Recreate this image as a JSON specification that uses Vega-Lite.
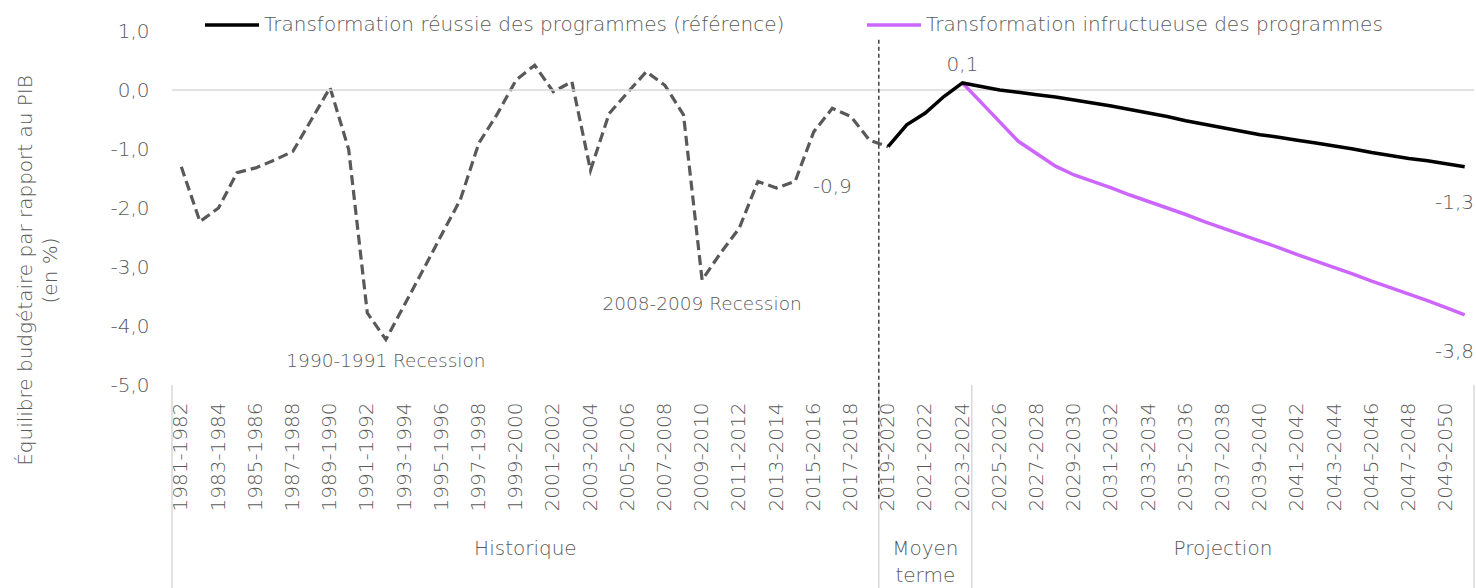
{
  "$schema": "https://vega.github.io/schema/vega-lite/v6.json",
  "autosize": {"type": "none"},
  "padding": {"left": 172, "top": 31, "right": 2, "bottom": 203},
  "width": 1302,
  "height": 354,
  "background": "white",
  "config": {
    "font": "DejaVu Sans",
    "view": {"stroke": null},
    "text": {"font": "DejaVu Sans", "fontWeight": 300, "fill": "#595959", "fontSize": 20}
  },
  "datasets": {
    "hist": [
      {"period": "1981-1982", "value": -1.30},
      {"period": "1982-1983", "value": -2.23},
      {"period": "1983-1984", "value": -2.00},
      {"period": "1984-1985", "value": -1.40},
      {"period": "1985-1986", "value": -1.32},
      {"period": "1986-1987", "value": -1.19},
      {"period": "1987-1988", "value": -1.04},
      {"period": "1988-1989", "value": -0.50},
      {"period": "1989-1990", "value": 0.04},
      {"period": "1990-1991", "value": -1.01},
      {"period": "1991-1992", "value": -3.78},
      {"period": "1992-1993", "value": -4.23},
      {"period": "1993-1994", "value": -3.64},
      {"period": "1994-1995", "value": -3.05},
      {"period": "1995-1996", "value": -2.45},
      {"period": "1996-1997", "value": -1.86},
      {"period": "1997-1998", "value": -0.90},
      {"period": "1998-1999", "value": -0.40},
      {"period": "1999-2000", "value": 0.17},
      {"period": "2000-2001", "value": 0.42},
      {"period": "2001-2002", "value": -0.03},
      {"period": "2002-2003", "value": 0.14},
      {"period": "2003-2004", "value": -1.36},
      {"period": "2004-2005", "value": -0.40},
      {"period": "2005-2006", "value": -0.04},
      {"period": "2006-2007", "value": 0.31},
      {"period": "2007-2008", "value": 0.08},
      {"period": "2008-2009", "value": -0.42},
      {"period": "2009-2010", "value": -3.22},
      {"period": "2010-2011", "value": -2.76},
      {"period": "2011-2012", "value": -2.34},
      {"period": "2012-2013", "value": -1.55},
      {"period": "2013-2014", "value": -1.66},
      {"period": "2014-2015", "value": -1.55},
      {"period": "2015-2016", "value": -0.71},
      {"period": "2016-2017", "value": -0.31},
      {"period": "2017-2018", "value": -0.45},
      {"period": "2018-2019", "value": -0.85},
      {"period": "2019-2020", "value": -0.96}
    ],
    "scen": [
      {"period": "2023-2024", "series": "Transformation infructueuse des programmes", "value": 0.12},
      {"period": "2024-2025", "series": "Transformation infructueuse des programmes", "value": -0.21},
      {"period": "2025-2026", "series": "Transformation infructueuse des programmes", "value": -0.54},
      {"period": "2026-2027", "series": "Transformation infructueuse des programmes", "value": -0.87},
      {"period": "2027-2028", "series": "Transformation infructueuse des programmes", "value": -1.08},
      {"period": "2028-2029", "series": "Transformation infructueuse des programmes", "value": -1.29},
      {"period": "2029-2030", "series": "Transformation infructueuse des programmes", "value": -1.44},
      {"period": "2030-2031", "series": "Transformation infructueuse des programmes", "value": -1.55},
      {"period": "2031-2032", "series": "Transformation infructueuse des programmes", "value": -1.66},
      {"period": "2032-2033", "series": "Transformation infructueuse des programmes", "value": -1.78},
      {"period": "2033-2034", "series": "Transformation infructueuse des programmes", "value": -1.89},
      {"period": "2034-2035", "series": "Transformation infructueuse des programmes", "value": -2.00},
      {"period": "2035-2036", "series": "Transformation infructueuse des programmes", "value": -2.11},
      {"period": "2036-2037", "series": "Transformation infructueuse des programmes", "value": -2.23},
      {"period": "2037-2038", "series": "Transformation infructueuse des programmes", "value": -2.34},
      {"period": "2038-2039", "series": "Transformation infructueuse des programmes", "value": -2.45},
      {"period": "2039-2040", "series": "Transformation infructueuse des programmes", "value": -2.56},
      {"period": "2040-2041", "series": "Transformation infructueuse des programmes", "value": -2.67},
      {"period": "2041-2042", "series": "Transformation infructueuse des programmes", "value": -2.79},
      {"period": "2042-2043", "series": "Transformation infructueuse des programmes", "value": -2.90},
      {"period": "2043-2044", "series": "Transformation infructueuse des programmes", "value": -3.01},
      {"period": "2044-2045", "series": "Transformation infructueuse des programmes", "value": -3.12},
      {"period": "2045-2046", "series": "Transformation infructueuse des programmes", "value": -3.24},
      {"period": "2046-2047", "series": "Transformation infructueuse des programmes", "value": -3.35},
      {"period": "2047-2048", "series": "Transformation infructueuse des programmes", "value": -3.46},
      {"period": "2048-2049", "series": "Transformation infructueuse des programmes", "value": -3.57},
      {"period": "2049-2050", "series": "Transformation infructueuse des programmes", "value": -3.69},
      {"period": "2050-2051", "series": "Transformation infructueuse des programmes", "value": -3.81},
      {"period": "2019-2020", "series": "Transformation réussie des programmes (référence)", "value": -0.96},
      {"period": "2020-2021", "series": "Transformation réussie des programmes (référence)", "value": -0.59},
      {"period": "2021-2022", "series": "Transformation réussie des programmes (référence)", "value": -0.39},
      {"period": "2022-2023", "series": "Transformation réussie des programmes (référence)", "value": -0.11},
      {"period": "2023-2024", "series": "Transformation réussie des programmes (référence)", "value": 0.12},
      {"period": "2024-2025", "series": "Transformation réussie des programmes (référence)", "value": 0.06},
      {"period": "2025-2026", "series": "Transformation réussie des programmes (référence)", "value": 0.00},
      {"period": "2026-2027", "series": "Transformation réussie des programmes (référence)", "value": -0.04},
      {"period": "2027-2028", "series": "Transformation réussie des programmes (référence)", "value": -0.08},
      {"period": "2028-2029", "series": "Transformation réussie des programmes (référence)", "value": -0.12},
      {"period": "2029-2030", "series": "Transformation réussie des programmes (référence)", "value": -0.17},
      {"period": "2030-2031", "series": "Transformation réussie des programmes (référence)", "value": -0.22},
      {"period": "2031-2032", "series": "Transformation réussie des programmes (référence)", "value": -0.27},
      {"period": "2032-2033", "series": "Transformation réussie des programmes (référence)", "value": -0.33},
      {"period": "2033-2034", "series": "Transformation réussie des programmes (référence)", "value": -0.39},
      {"period": "2034-2035", "series": "Transformation réussie des programmes (référence)", "value": -0.45},
      {"period": "2035-2036", "series": "Transformation réussie des programmes (référence)", "value": -0.52},
      {"period": "2036-2037", "series": "Transformation réussie des programmes (référence)", "value": -0.58},
      {"period": "2037-2038", "series": "Transformation réussie des programmes (référence)", "value": -0.64},
      {"period": "2038-2039", "series": "Transformation réussie des programmes (référence)", "value": -0.70},
      {"period": "2039-2040", "series": "Transformation réussie des programmes (référence)", "value": -0.76},
      {"period": "2040-2041", "series": "Transformation réussie des programmes (référence)", "value": -0.80},
      {"period": "2041-2042", "series": "Transformation réussie des programmes (référence)", "value": -0.85},
      {"period": "2042-2043", "series": "Transformation réussie des programmes (référence)", "value": -0.90},
      {"period": "2043-2044", "series": "Transformation réussie des programmes (référence)", "value": -0.95},
      {"period": "2044-2045", "series": "Transformation réussie des programmes (référence)", "value": -1.00},
      {"period": "2045-2046", "series": "Transformation réussie des programmes (référence)", "value": -1.06},
      {"period": "2046-2047", "series": "Transformation réussie des programmes (référence)", "value": -1.11},
      {"period": "2047-2048", "series": "Transformation réussie des programmes (référence)", "value": -1.16},
      {"period": "2048-2049", "series": "Transformation réussie des programmes (référence)", "value": -1.20},
      {"period": "2049-2050", "series": "Transformation réussie des programmes (référence)", "value": -1.25},
      {"period": "2050-2051", "series": "Transformation réussie des programmes (référence)", "value": -1.30}
    ],
    "seps": [
      {"period": "1981-1982"},
      {"period": "2019-2020"},
      {"period": "2024-2025"}
    ],
    "sepEnd": [
      {"period": "2050-2051"}
    ],
    "groupLeft": [
      {"period": "2000-2001", "label": "Historique"}
    ],
    "groupCenter": [
      {"period": "2021-2022", "label": ["Moyen", "terme"]},
      {"period": "2037-2038", "label": "Projection"}
    ],
    "notes": [
      {"period": "2023-2024", "value": 0.42, "label": "0,1", "size": 20},
      {"period": "2016-2017", "value": -1.64, "label": "-0,9", "size": 20},
      {"period": "2009-2010", "value": -3.62, "label": "2008-2009 Recession", "size": 18.5},
      {"period": "1992-1993", "value": -4.59, "label": "1990-1991 Recession", "size": 18.5}
    ],
    "endNotes": [
      {"period": "2050-2051", "value": -1.92, "label": "-1,3"},
      {"period": "2050-2051", "value": -4.44, "label": "-3,8"}
    ]
  },
  "layer": [
    {
      "data": {"name": "hist"},
      "mark": {"type": "line", "color": "#595959", "strokeWidth": 3.2, "strokeDash": [10, 5]},
      "encoding": {
        "x": {
          "field": "period",
          "type": "ordinal",
          "scale": {"type": "band", "paddingInner": 0, "paddingOuter": 0},
          "axis": {
            "title": null,
            "domain": false,
            "ticks": false,
            "grid": false,
            "labelAngle": -90,
            "labelPadding": 17,
            "labelOverlap": false,
            "labelFontSize": 20,
            "labelFont": "DejaVu Sans",
            "labelFontWeight": 300,
            "labelColor": "#595959",
            "labelExpr": "toNumber(substring(datum.label,0,4)) % 2 == 1 ? datum.label : ''"
          }
        },
        "y": {
          "field": "value",
          "type": "quantitative",
          "scale": {"domain": [-5, 1], "nice": false, "zero": false},
          "axis": {
            "values": [-5, -4, -3, -2, -1, 0, 1],
            "grid": false,
            "domain": false,
            "ticks": false,
            "labelPadding": 23,
            "labelFontSize": 20,
            "labelFont": "DejaVu Sans",
            "labelFontWeight": 300,
            "labelColor": "#595959",
            "labelExpr": "replace(replace(format(datum.value, '.1f'), '.', ','), '\u2212', '-')",
            "title": ["Équilibre budgétaire par rapport au PIB", "(en %)"],
            "titleFont": "DejaVu Sans",
            "titleFontSize": 20,
            "titleFontWeight": 300,
            "titleColor": "#595959",
            "titleAngle": -90,
            "titleAlign": "center",
            "titleBaseline": "alphabetic",
            "titleLineHeight": 25,
            "titleX": -141,
            "titleY": 239
          }
        }
      }
    },
    {
      "data": {"name": "seps"},
      "mark": {"type": "rule", "color": "#d9d9d9", "strokeWidth": 1.5},
      "encoding": {
        "x": {"field": "period", "type": "ordinal", "bandPosition": 0, "scale": {"type": "band", "paddingInner": 0, "paddingOuter": 0}},
        "y": {"datum": -5, "type": "quantitative", "scale": {"domain": [-5, 1], "nice": false, "zero": false}},
        "y2": {"datum": -8.5}
      }
    },
    {
      "data": {"name": "sepEnd"},
      "mark": {"type": "rule", "color": "#d9d9d9", "strokeWidth": 1.5},
      "encoding": {
        "x": {"field": "period", "type": "ordinal", "bandPosition": 1, "scale": {"type": "band", "paddingInner": 0, "paddingOuter": 0}},
        "y": {"datum": -5, "type": "quantitative", "scale": {"domain": [-5, 1], "nice": false, "zero": false}},
        "y2": {"datum": -8.5}
      }
    },
    {
      "data": {"values": [{}]},
      "mark": {"type": "rule", "color": "#d9d9d9", "strokeWidth": 1.5},
      "encoding": {
        "y": {"datum": 0, "type": "quantitative", "scale": {"domain": [-5, 1], "nice": false, "zero": false}}
      }
    },
    {
      "data": {"values": [{"period": "2019-2020"}]},
      "mark": {"type": "rule", "color": "#404040", "strokeWidth": 1.5, "strokeDash": [4, 3]},
      "encoding": {
        "x": {"field": "period", "type": "ordinal", "bandPosition": 0, "scale": {"type": "band", "paddingInner": 0, "paddingOuter": 0}},
        "y": {"datum": 0.85, "type": "quantitative", "scale": {"domain": [-5, 1], "nice": false, "zero": false}},
        "y2": {"datum": -6.95}
      }
    },
    {
      "data": {"name": "scen"},
      "mark": {"type": "line", "strokeWidth": 3.5},
      "encoding": {
        "x": {"field": "period", "type": "ordinal", "scale": {"type": "band", "paddingInner": 0, "paddingOuter": 0}},
        "y": {"field": "value", "type": "quantitative", "scale": {"domain": [-5, 1], "nice": false, "zero": false}},
        "color": {
          "field": "series",
          "type": "nominal",
          "scale": {
            "domain": ["Transformation réussie des programmes (référence)", "Transformation infructueuse des programmes"],
            "range": ["#000000", "#CC66FF"]
          },
          "legend": {
            "title": null,
            "orient": "none",
            "legendX": 31,
            "legendY": -35,
            "direction": "horizontal",
            "symbolType": "stroke",
            "symbolStrokeWidth": 3.5,
            "symbolSize": 2916,
            "labelFontSize": 20,
            "labelFont": "DejaVu Sans",
            "labelFontWeight": 300,
            "labelColor": "#595959",
            "labelLimit": 800,
            "labelOffset": 3,
            "columnPadding": 75
          }
        },
        "order": {"field": "series", "sort": "ascending"}
      }
    },
    {
      "data": {"name": "groupLeft"},
      "mark": {"type": "text", "baseline": "top", "align": "center"},
      "encoding": {
        "x": {"field": "period", "type": "ordinal", "bandPosition": 0, "scale": {"type": "band", "paddingInner": 0, "paddingOuter": 0}},
        "y": {"datum": -7.61, "type": "quantitative", "scale": {"domain": [-5, 1], "nice": false, "zero": false}},
        "text": {"field": "label"}
      }
    },
    {
      "data": {"name": "groupCenter"},
      "mark": {"type": "text", "baseline": "top", "align": "center", "lineHeight": 27},
      "encoding": {
        "x": {"field": "period", "type": "ordinal", "scale": {"type": "band", "paddingInner": 0, "paddingOuter": 0}},
        "y": {"datum": -7.61, "type": "quantitative", "scale": {"domain": [-5, 1], "nice": false, "zero": false}},
        "text": {"field": "label"}
      }
    },
    {
      "data": {"name": "notes"},
      "mark": {"type": "text", "baseline": "middle", "align": "center"},
      "encoding": {
        "x": {"field": "period", "type": "ordinal", "scale": {"type": "band", "paddingInner": 0, "paddingOuter": 0}},
        "y": {"field": "value", "type": "quantitative", "scale": {"domain": [-5, 1], "nice": false, "zero": false}},
        "text": {"field": "label"},
        "size": {"field": "size", "type": "quantitative", "scale": null, "legend": null}
      }
    },
    {
      "data": {"name": "endNotes"},
      "mark": {"type": "text", "baseline": "middle", "align": "right"},
      "encoding": {
        "x": {"field": "period", "type": "ordinal", "bandPosition": 1, "scale": {"type": "band", "paddingInner": 0, "paddingOuter": 0}},
        "y": {"field": "value", "type": "quantitative", "scale": {"domain": [-5, 1], "nice": false, "zero": false}},
        "text": {"field": "label"}
      }
    }
  ]
}
